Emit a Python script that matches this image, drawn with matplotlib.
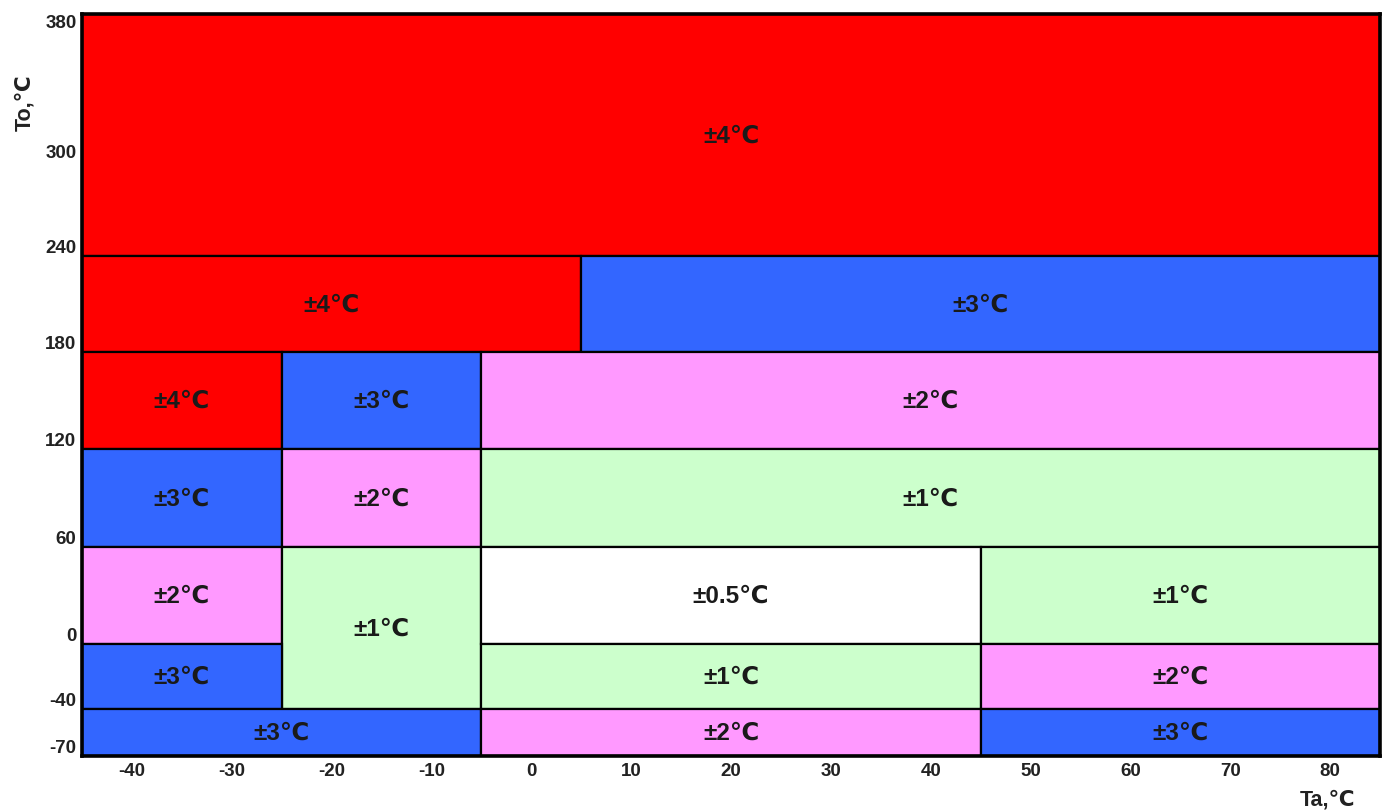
import numpy as np
import matplotlib
matplotlib.use('Agg')
import matplotlib.pyplot as plt
from matplotlib.patches import Rectangle

plt.rcParams['font.family'] = ['Liberation Sans', 'DejaVu Sans']

# accuracy zones: (Ta from, Ta to, To from, To to, label)
ta_lo = [-45, -45, 5, -45, -25, -5, -45, -25, -5, -45, -25, -5, 45, -45, -5, 45, -45, -5, 45]
ta_hi = [85, 5, 85, -25, -5, 85, -25, -5, 85, -25, -5, 45, 85, -25, 45, 85, -5, 45, 85]
to_lo = [240, 180, 180, 120, 120, 120, 60, 60, 60, 0, -40, 0, 0, -40, -40, -40, -70, -70, -70]
to_hi = [380, 240, 240, 180, 180, 180, 120, 120, 120, 60, 60, 60, 60, 0, 0, 0, -40, -40, -40]
acc = ['±4℃', '±4℃', '±3℃', '±4℃', '±3℃', '±2℃', '±3℃', '±2℃', '±1℃',
       '±2℃', '±1℃', '±0.5℃', '±1℃', '±3℃', '±1℃', '±2℃', '±3℃', '±2℃', '±3℃']

colours = {'±4℃': '#ff0000', '±3℃': '#3366ff', '±2℃': '#ff99ff',
           '±1℃': '#ccffcc', '±0.5℃': '#ffffff'}

xticks = [-40, -30, -20, -10, 0, 10, 20, 30, 40, 50, 60, 70, 80]
yticks = [380, 300, 240, 180, 120, 60, 0, -40, -70]

# the To axis is stretched unevenly between the row boundaries
y_edges = np.array([-70, -40, 0, 60, 120, 180, 240, 380])
y_pos = np.array([0, 47, 112, 209, 307, 404, 500, 742]) / 742.0


def fwd(v):
    return np.interp(v, y_edges, y_pos)


def inv(v):
    return np.interp(v, y_pos, y_edges)


fig = plt.figure(figsize=(13.84, 8.12), dpi=100)
ax = fig.add_axes([82 / 1384, 55 / 812, 1298 / 1384, 742 / 812])
ax.set_yscale('function', functions=(fwd, inv))
ax.set_xlim(-45, 85)
ax.set_ylim(-70, 380)

for x0, x1, y0, y1, lab in zip(ta_lo, ta_hi, to_lo, to_hi, acc):
    ax.add_patch(Rectangle((x0, y0), x1 - x0, y1 - y0, facecolor=colours[lab],
                           edgecolor='black', linewidth=1.6, zorder=2))
    yc = inv((fwd(y0) + fwd(y1)) / 2)
    ax.text((x0 + x1) / 2, yc, lab, ha='center', va='center',
            fontsize=17.5, fontweight='bold', color='#1a1a1a', zorder=3)

ax.set_xticks(xticks)
ax.set_xticklabels([str(t) for t in xticks], fontsize=13.5, fontweight='bold', color='#222222')
ax.set_yticks(yticks)
ax.set_yticklabels([str(t) for t in yticks], fontsize=13.5, fontweight='bold', color='#222222')
ax.tick_params(length=0, pad=4)
for t, lab in zip(yticks, ax.get_yticklabels()):
    if t == 380:
        lab.set_va('top')
    elif t == 300:
        lab.set_va('center')
    else:
        lab.set_va('bottom')

for s in ax.spines.values():
    s.set_linewidth(2.6)
    s.set_zorder(5)

fig.text(25 / 1384, 1 - 103 / 812, 'To,℃', rotation=90, ha='center', va='center',
         fontsize=15.5, fontweight='bold', color='#222222')
fig.text(1328 / 1384, 1 - 800 / 812, 'Ta,℃', ha='center', va='center',
         fontsize=15.5, fontweight='bold', color='#222222')

fig.savefig('out.png', dpi=100)
